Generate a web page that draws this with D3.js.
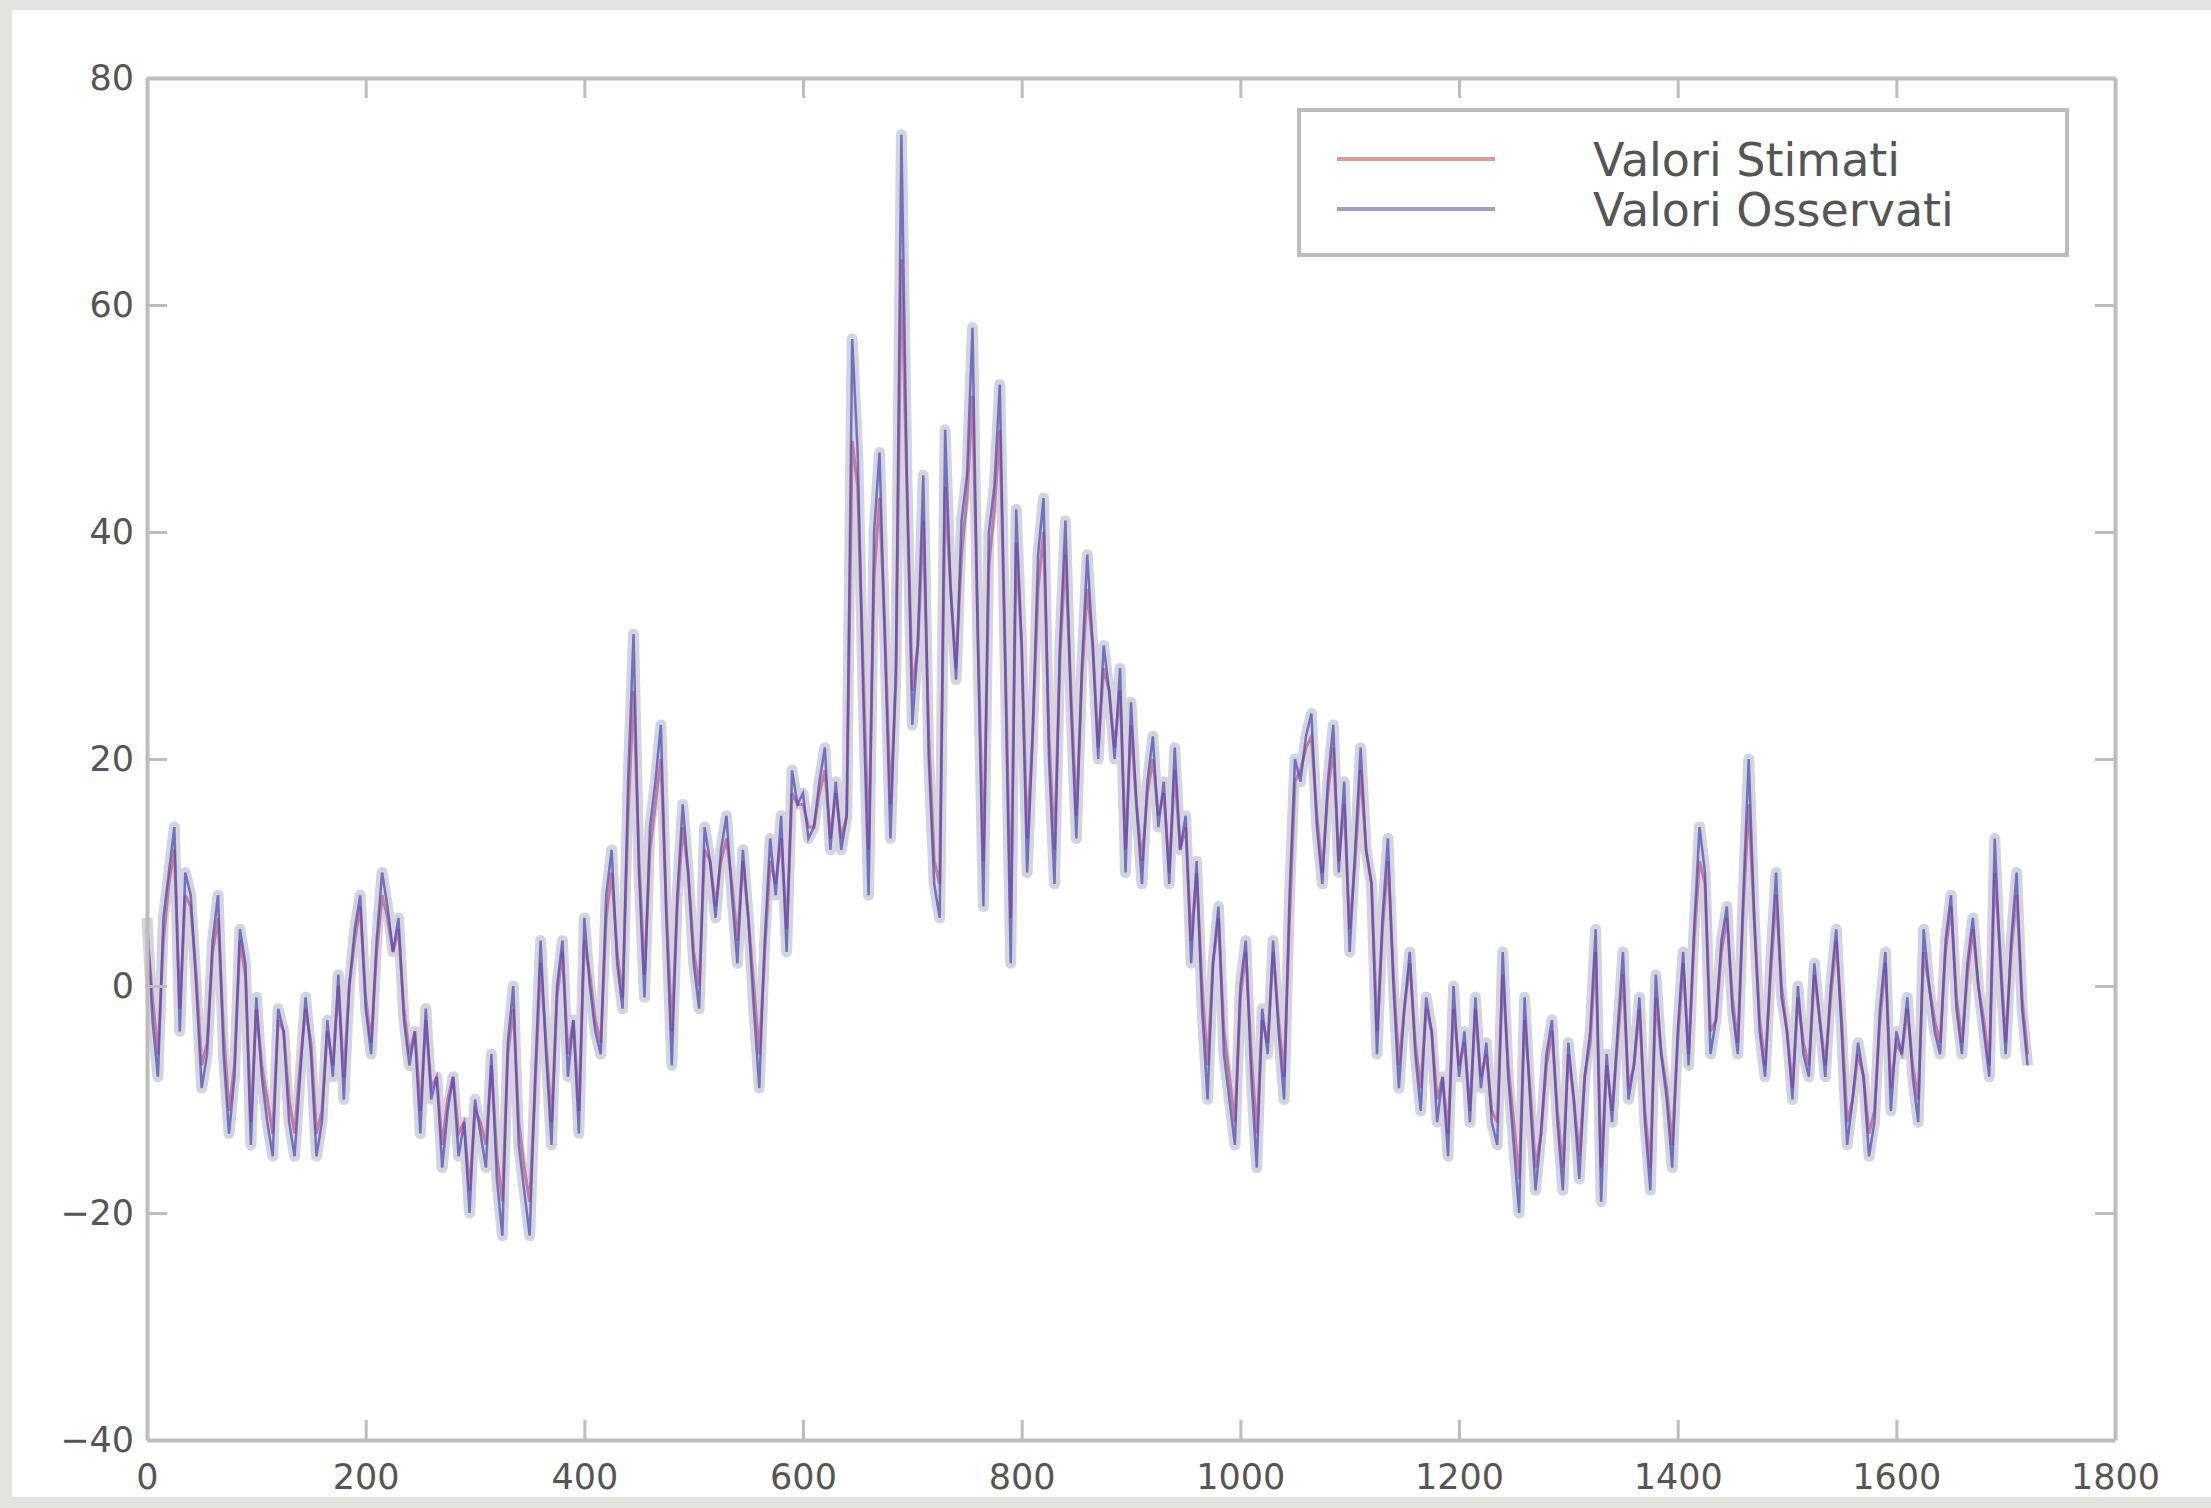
<!DOCTYPE html>
<html>
<head>
<meta charset="utf-8">
<script src="https://cdn.jsdelivr.net/npm/d3@7"></script>
<style>
	body { margin: 0; background: #e4e4de; }
</style>
</head>
<body>
<div id="chart"></div>
<script>
const WIDTH = 2211;
const HEIGHT = 1508;
const STEP = 5; // one sample every 5 days

const xTicks = [0, 200, 400, 600, 800, 1000, 1200, 1400, 1600, 1800];
const yTicks = [-40, -20, 0, 20, 40, 60, 80];
const seriesNames = ['Valori Stimati', 'Valori Osservati'];

const observed = [
	6, -3, -8, 6, 10, 14, -4, 10, 8, 0,
	-9, -6, 4, 8, -6, -13, -8, 5, 2, -14,
	-1, -8, -12, -15, -2, -4, -12, -15, -8, -1,
	-6, -15, -12, -3, -8, 1, -10, 0, 5, 8,
	-2, -6, 4, 10, 7, 3, 6, -3, -7, -4,
	-13, -2, -10, -8, -16, -11, -8, -15, -12, -20,
	-10, -13, -16, -6, -17, -22, -5, 0, -14, -18,
	-22, -8, 4, -6, -14, 0, 4, -8, -3, -13,
	6, 0, -4, -6, 8, 12, 2, -2, 18, 31,
	10, -1, 14, 18, 23, 6, -7, 8, 16, 10,
	2, -2, 14, 11, 6, 12, 15, 8, 2, 12,
	6, -2, -9, 4, 13, 8, 15, 3, 19, 16,
	17, 13, 14, 18, 21, 12, 18, 12, 15, 57,
	47, 26, 8, 40, 47, 30, 13, 28, 75, 45,
	23, 30, 45, 20, 9, 6, 49, 35, 27, 41,
	45, 58, 30, 7, 40, 44, 53, 28, 2, 42,
	30, 10, 22, 38, 43, 20, 9, 30, 41, 25,
	13, 28, 38, 30, 20, 30, 26, 20, 28, 10,
	25, 16, 9, 18, 22, 14, 18, 9, 21, 12,
	15, 2, 11, -2, -10, 2, 7, -6, -10, -14,
	0, 4, -8, -16, -2, -6, 4, -4, -10, 8,
	20, 18, 22, 24, 14, 9, 18, 23, 10, 18,
	3, 12, 21, 12, 9, -6, 6, 13, 0, -9,
	-2, 3, -6, -11, -1, -4, -12, -8, -15, 0,
	-8, -4, -12, -1, -9, -5, -12, -14, 3, -8,
	-14, -20, -1, -10, -18, -13, -6, -3, -12, -18,
	-5, -10, -17, -8, -4, 5, -19, -6, -12, -4,
	3, -10, -7, -1, -12, -18, 1, -6, -10, -16,
	-4, 3, -7, 5, 14, 10, -6, -3, 4, 7,
	-2, -6, 8, 20, 6, -4, -8, 2, 10, -1,
	-4, -10, 0, -6, -8, 2, -3, -8, 0, 5,
	-4, -14, -10, -5, -8, -15, -12, -2, 3, -11,
	-4, -6, -1, -8, -12, 5, 0, -4, -6, 4,
	8, -2, -6, 2, 6, 0, -4, -8, 13, 2,
	-6, 4, 10, -2, -7
];

// estimated values, same sampling
const estimated = [
	5, -1, -6, 4, 9, 12, -2, 8, 7, 1,
	-7, -5, 3, 6, -4, -11, -7, 4, 1, -12,
	-2, -7, -10, -13, -3, -4, -10, -13, -7, -2,
	-5, -13, -11, -4, -7, 0, -8, 0, 4, 7,
	-1, -5, 3, 8, 6, 3, 5, -2, -6, -4,
	-11, -3, -9, -8, -14, -10, -8, -13, -12, -18,
	-11, -12, -14, -7, -15, -19, -6, -2, -12, -16,
	-19, -9, 2, -5, -12, -1, 3, -6, -3, -11,
	4, 1, -3, -5, 6, 10, 3, -1, 15, 26,
	11, 1, 12, 16, 20, 7, -4, 7, 14, 10,
	3, 0, 12, 11, 7, 11, 13, 9, 4, 11,
	6, 0, -6, 3, 11, 9, 13, 5, 17, 16,
	16, 14, 14, 17, 19, 13, 17, 13, 15, 48,
	44, 28, 12, 36, 43, 31, 16, 27, 64, 44,
	26, 30, 41, 22, 11, 9, 44, 35, 28, 38,
	43, 52, 31, 11, 37, 42, 49, 29, 6, 39,
	30, 13, 22, 35, 40, 22, 12, 29, 38, 26,
	15, 27, 35, 30, 21, 28, 26, 21, 26, 12,
	23, 16, 11, 17, 20, 15, 17, 10, 19, 12,
	14, 4, 10, 0, -7, 2, 6, -4, -8, -12,
	-1, 3, -6, -13, -3, -5, 3, -3, -8, 6,
	18, 19, 21, 22, 15, 10, 17, 21, 11, 16,
	5, 11, 19, 12, 9, -4, 5, 11, 1, -7,
	-2, 2, -5, -9, -2, -4, -10, -8, -13, -2,
	-7, -5, -11, -2, -8, -6, -11, -12, 1, -7,
	-12, -17, -3, -9, -16, -13, -7, -4, -11, -16,
	-6, -10, -15, -8, -5, 3, -16, -7, -11, -5,
	1, -9, -7, -2, -11, -16, -1, -6, -9, -14,
	-5, 2, -6, 4, 11, 9, -4, -3, 3, 6,
	-1, -5, 7, 16, 6, -3, -7, 1, 8, 0,
	-4, -9, -1, -5, -7, 1, -3, -7, -1, 4,
	-3, -12, -10, -6, -8, -13, -11, -3, 2, -9,
	-5, -6, -2, -7, -10, 3, 0, -3, -5, 3,
	7, -1, -5, 1, 5, 0, -3, -7, 10, 3,
	-5, 3, 8, -1, -6
];

const AXIS_COLOR = '#bdbdbd';
const TEXT_COLOR = '#555555';
const FONT_FAMILY = 'DejaVu Sans';
const TICK_SIZE = 20;
const FONT_SIZE = 35;

const margin = {left: 147, right: 96, top: 78, bottom: 68};

const svg = d3.select('#chart').append('svg')
	.attr('width', WIDTH)
	.attr('height', HEIGHT);

// figure background (scanned page)
svg.append('rect')
	.attr('width', WIDTH)
	.attr('height', HEIGHT)
	.attr('fill', '#e4e4de');
svg.append('rect')
	.attr('x', 12)
	.attr('y', 10)
	.attr('width', WIDTH - 12)
	.attr('height', 1487)
	.attr('fill', '#ffffff');

const x = d3.scaleLinear()
	.domain([0, 1800])
	.range([margin.left, WIDTH - margin.right]);

const y = d3.scaleLinear()
	.domain([-40, 80])
	.range([HEIGHT - margin.bottom, margin.top]);

// series
const line = d3.line()
	.x((d, i) => x(i * STEP))
	.y(d => y(d));

const plot = svg.append('g').attr('class', 'series');

// soft grey halo, the scan blurs both lines together
plot.append('path')
	.datum(observed)
	.attr('fill', 'none')
	.attr('stroke', '#d4d4de')
	.attr('stroke-width', 11)
	.attr('stroke-linejoin', 'round')
	.attr('d', line);

plot.append('path')
	.datum(estimated)
	.attr('fill', 'none')
	.attr('stroke', '#b8507e')
	.attr('stroke-opacity', 0.65)
	.attr('stroke-width', 3)
	.attr('d', line);

plot.append('path')
	.datum(observed)
	.attr('fill', 'none')
	.attr('stroke', '#4a46b4')
	.attr('stroke-opacity', 0.7)
	.attr('stroke-width', 2.5)
	.attr('d', line);

// axes
function styleAxis(g) {
	g.select('.domain').attr('stroke', AXIS_COLOR).attr('stroke-width', 4);
	g.selectAll('.tick line').attr('stroke', AXIS_COLOR).attr('stroke-width', 3);
	g.selectAll('.tick text')
		.attr('fill', TEXT_COLOR)
		.attr('font-family', FONT_FAMILY)
		.attr('font-size', FONT_SIZE);
}

svg.append('g')
	.attr('class', 'x-axis')
	.attr('transform', `translate(0,${HEIGHT - margin.bottom})`)
	.call(d3.axisBottom(x).tickValues(xTicks).tickFormat(d3.format('d')).tickSize(-TICK_SIZE).tickSizeOuter(0).tickPadding(24))
	.call(styleAxis);

svg.append('g')
	.attr('class', 'x-axis-top')
	.attr('transform', `translate(0,${margin.top})`)
	.call(d3.axisTop(x).tickValues(xTicks).tickSize(-TICK_SIZE).tickSizeOuter(0).tickFormat(''))
	.call(styleAxis);

svg.append('g')
	.attr('class', 'y-axis')
	.attr('transform', `translate(${margin.left},0)`)
	.call(d3.axisLeft(y).tickValues(yTicks).tickSize(-TICK_SIZE).tickSizeOuter(0).tickPadding(13))
	.call(styleAxis);

svg.append('g')
	.attr('class', 'y-axis-right')
	.attr('transform', `translate(${WIDTH - margin.right},0)`)
	.call(d3.axisRight(y).tickValues(yTicks).tickSize(-TICK_SIZE).tickSizeOuter(0).tickFormat(''))
	.call(styleAxis);

// legend
const legend = svg.append('g')
	.attr('class', 'legend')
	.attr('transform', 'translate(1299,110)');

legend.append('rect')
	.attr('width', 768)
	.attr('height', 145)
	.attr('fill', '#ffffff')
	.attr('stroke', AXIS_COLOR)
	.attr('stroke-width', 4);

const legendColors = ['#dc9a9a', '#a09ec4'];
const legendRows = legend.selectAll('.row')
	.data(seriesNames)
	.join('g')
	.attr('class', 'row')
	.attr('transform', (d, i) => `translate(0,${49 + i * 50})`);

legendRows.append('line')
	.attr('x1', 38)
	.attr('x2', 196)
	.attr('stroke', (d, i) => legendColors[i])
	.attr('stroke-width', 4);

legendRows.append('text')
	.attr('x', 294)
	.attr('dy', '0.36em')
	.attr('fill', TEXT_COLOR)
	.attr('font-family', FONT_FAMILY)
	.attr('font-size', 46)
	.text(d => d);
</script>
</body>
</html>
